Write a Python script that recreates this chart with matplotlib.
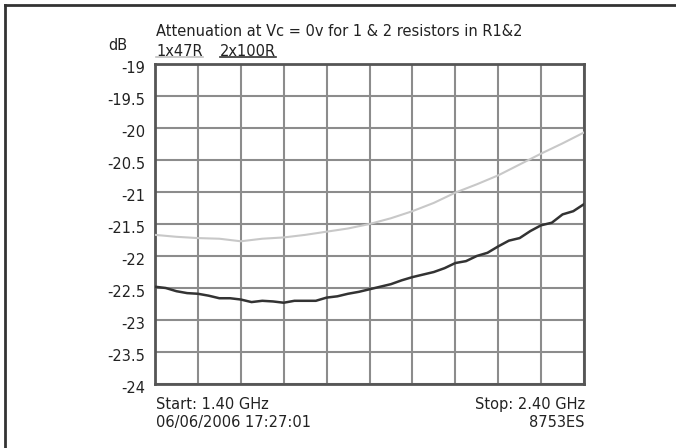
import numpy as np
import matplotlib
matplotlib.use("Agg")
import matplotlib.pyplot as plt
import matplotlib.transforms as mtransforms
from matplotlib.lines import Line2D

freq_47 = [1.40, 1.45, 1.50, 1.55, 1.60, 1.65, 1.70, 1.75, 1.80, 1.85, 1.90,
           1.95, 2.00, 2.05, 2.10, 2.15, 2.20, 2.25, 2.30, 2.35, 2.40]
att_47 = [-21.67, -21.70, -21.72, -21.73, -21.77, -21.73, -21.71, -21.67, -21.62, -21.57, -21.50,
          -21.41, -21.30, -21.17, -21.01, -20.88, -20.74, -20.57, -20.40, -20.24, -20.07]

freq_100 = [1.400, 1.425, 1.450, 1.475, 1.500, 1.525, 1.550, 1.575, 1.600, 1.625, 1.650,
            1.675, 1.700, 1.725, 1.750, 1.775, 1.800, 1.825, 1.850, 1.875, 1.900,
            1.925, 1.950, 1.975, 2.000, 2.025, 2.050, 2.075, 2.100, 2.125, 2.150,
            2.175, 2.200, 2.225, 2.250, 2.275, 2.300, 2.325, 2.350, 2.375, 2.400]
att_100 = [-22.48, -22.50, -22.55, -22.58, -22.59, -22.62, -22.66, -22.66, -22.68, -22.72, -22.70,
           -22.71, -22.73, -22.70, -22.70, -22.70, -22.65, -22.63, -22.59, -22.56, -22.52,
           -22.48, -22.44, -22.38, -22.33, -22.29, -22.25, -22.19, -22.11, -22.08, -22.00,
           -21.95, -21.85, -21.76, -21.72, -21.61, -21.52, -21.48, -21.35, -21.30, -21.19]

y_ticks = [-19, -19.5, -20, -20.5, -21, -21.5, -22, -22.5, -23, -23.5, -24]
y_labels = ['-19', '-19.5', '-20', '-20.5', '-21', '-21.5', '-22', '-22.5', '-23', '-23.5', '-24']
x_grid = np.arange(1.4, 2.4001, 0.1)

W, H = 676, 448
plt.rcParams['font.family'] = ['DejaVu Sans']
fs = 10.5

fig = plt.figure(figsize=(W / 100, H / 100), dpi=100)
ax = fig.add_axes([155 / W, 1 - 384 / H, (584 - 155) / W, (384 - 64) / H])

def px(x, y):
    return x / W, 1 - y / H

ax.plot(freq_47, att_47, color='#c8c8c8', lw=1.5, zorder=3)
ax.plot(freq_100, att_100, color='#333333', lw=1.8, zorder=4)

ax.set_xlim(1.4, 2.4)
ax.set_ylim(-24, -19)
ax.set_xticks(x_grid)
ax.set_xticklabels([])
ax.set_yticks(y_ticks)
ax.set_yticklabels(y_labels, fontsize=fs, color='#222222')
ax.tick_params(length=0, pad=7.2)
ax.grid(True, color='#8c8c8c', lw=1.5)
for s in ax.spines.values():
    s.set_color('#555555')
    s.set_linewidth(2)

# nudge tick labels slightly downward like the original printout
off = mtransforms.ScaledTranslation(0, -3 / 100, fig.dpi_scale_trans)
for lab in ax.get_yticklabels():
    lab.set_transform(lab.get_transform() + off)

fig.text(*px(156, 31), 'Attenuation at Vc = 0v for 1 & 2 resistors in R1&2',
         fontsize=fs, ha='left', va='center', color='#222222')
fig.text(*px(108, 46), 'dB', fontsize=fs, ha='left', va='center', color='#222222')
t1 = fig.text(*px(156, 51), '1x47R', fontsize=fs, ha='left', va='center', color='#222222')
t2 = fig.text(*px(220, 51), '2x100R', fontsize=fs, ha='left', va='center', color='#222222')

fig.text(*px(156, 404), 'Start: 1.40 GHz', fontsize=fs, ha='left', va='center', color='#222222')
fig.text(*px(156, 422), '06/06/2006 17:27:01', fontsize=fs, ha='left', va='center', color='#222222')
fig.text(*px(585, 404), 'Stop: 2.40 GHz', fontsize=fs, ha='right', va='center', color='#222222')
fig.text(*px(585, 422), '8753ES', fontsize=fs, ha='right', va='center', color='#222222')

# underlines for the trace legends
fig.canvas.draw()
r = fig.canvas.get_renderer()
for t, c in [(t1, '#c0c0c0'), (t2, '#333333')]:
    bb = t.get_window_extent(r)
    fig.add_artist(Line2D([bb.x0 / W, bb.x1 / W], [1 - 57.5 / H] * 2, color=c, lw=1.2))

# frame of the screenshot (top and left edges)
fig.add_artist(Line2D([5 / W, 1], [1 - 5 / H] * 2, color='#333333', lw=2))
fig.add_artist(Line2D([5 / W] * 2, [0, 1 - 5 / H], color='#333333', lw=2))

fig.savefig('out.png', dpi=100)
